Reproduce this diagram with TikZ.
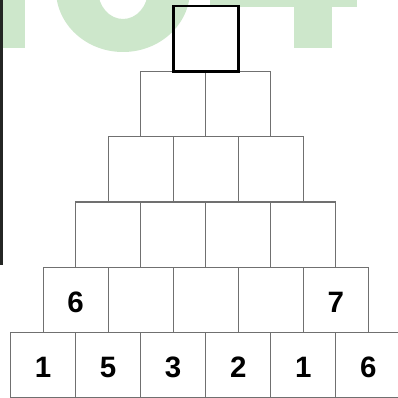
\documentclass[tikz,border=0pt]{standalone}
\usepackage{fontspec}
\setmainfont{Liberation Sans}
\definecolor{wm}{RGB}{205,231,203}
\definecolor{gridgray}{RGB}{112,112,112}
\definecolor{sidebar}{RGB}{36,38,36}
\begin{document}
\begin{tikzpicture}[x=1pt,y=-1pt,
  cell/.style={draw=gridgray, line width=1.2pt, minimum width=65pt, minimum height=65.33pt,
    inner sep=0pt, outer sep=0pt, text height=24.7pt, text depth=0pt,
    font=\fontsize{29.5}{29.5}\selectfont\bfseries},
  topcell/.style={cell, draw=black, line width=2.6pt}]
\useasboundingbox (0,0) rectangle (398,398);
% watermark "104"
\fill[wm] (-2,-5) rectangle (25,48);
\fill[wm,even odd rule] (123,-10) ellipse [x radius=67, y radius=62]
                        (123,-10) ellipse [x radius=25, y radius=29];
\fill[wm] (210,-5) rectangle (357,7);
\fill[wm] (294,-5) rectangle (332,48);
% left bar
\fill[sidebar] (0,0) rectangle (3,265);
% row 6
\node[cell] (f1) at (43.2,365.33) {1};
\node[cell] (f2) at (108.2,365.33) {5};
\node[cell] (f3) at (173.2,365.33) {3};
\node[cell] (f4) at (238.2,365.33) {2};
\node[cell] (f5) at (303.2,365.33) {1};
\node[cell] (f6) at (368.2,365.33) {6};
% row 5
\node[cell] (e1) at (75.7,300) {6};
\node[cell] (e2) at (140.7,300) {};
\node[cell] (e3) at (205.7,300) {};
\node[cell] (e4) at (270.7,300) {};
\node[cell] (e5) at (335.7,300) {7};
% row 4
\node[cell] (d1) at (108.2,234.67) {};
\node[cell] (d2) at (173.2,234.67) {};
\node[cell] (d3) at (238.2,234.67) {};
\node[cell] (d4) at (303.2,234.67) {};
% row 3
\node[cell] (c1) at (140.7,169.33) {};
\node[cell] (c2) at (205.7,169.33) {};
\node[cell] (c3) at (270.7,169.33) {};
% row 2
\node[cell] (b1) at (173.2,104) {};
\node[cell] (b2) at (238.2,104) {};
% row 1
\node[topcell] (a1) at (205.7,38.67) {};
\end{tikzpicture}
\end{document}
